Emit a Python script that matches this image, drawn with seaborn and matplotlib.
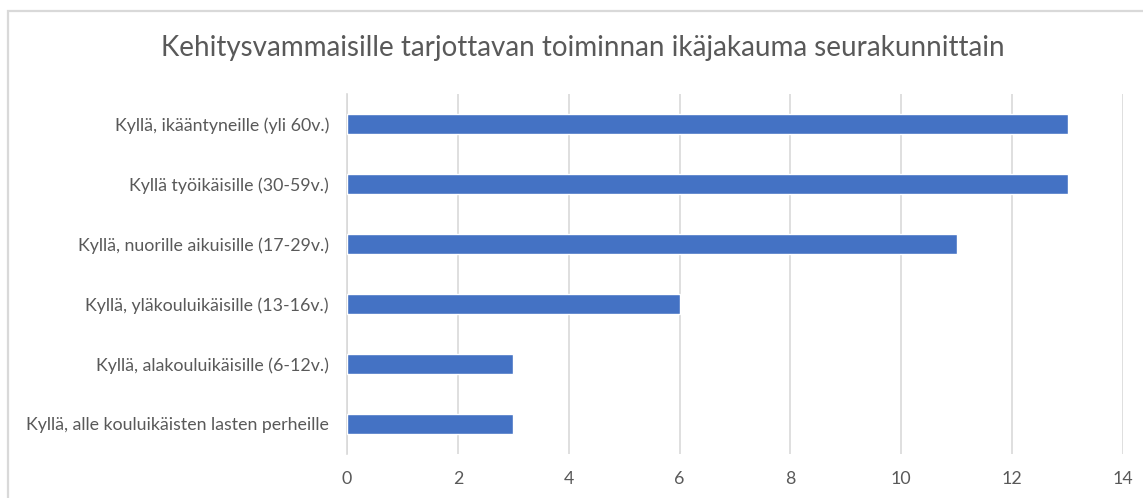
import pandas as pd
import seaborn as sns
import matplotlib.pyplot as plt
from matplotlib.patches import Rectangle

# Data (top to bottom)
categories = [
    'Kyllä, ikääntyneille (yli 60v.)',
    'Kyllä työikäisille (30-59v.)',
    'Kyllä, nuorille aikuisille (17-29v.)',
    'Kyllä, yläkouluikäisille (13-16v.)',
    'Kyllä, alakouluikäisille (6-12v.)',
    'Kyllä, alle kouluikäisten lasten perheille',
]
counts = [13, 13, 11, 6, 3, 3]
x_ticks = [0, 2, 4, 6, 8, 10, 12, 14]

df = pd.DataFrame({'Kategoria': categories, 'Määrä': counts})

sns.set_style("white")
plt.rcParams['font.family'] = ['Lato', 'DejaVu Sans']

fig = plt.figure(figsize=(11.43, 4.98), dpi=100)
ax = fig.add_axes([0.3036, 0.0884, 0.6789, 0.7228])

sns.barplot(data=df, x='Määrä', y='Kategoria', color='#4472C4',
            width=0.33, saturation=1, ax=ax, zorder=3)

ax.set_xlim(0, 14)
ax.set_xticks(x_ticks)
ax.xaxis.grid(True, color='#D9D9D9', linewidth=1.2, zorder=0)
ax.set_axisbelow(True)
ax.set_xlabel('')
ax.set_ylabel('')
for side in ['top', 'right', 'bottom']:
    ax.spines[side].set_visible(False)
ax.spines['left'].set_color('#D9D9D9')
ax.spines['left'].set_linewidth(1.2)
ax.tick_params(axis='both', length=0, labelsize=12.8, colors='#595959')
ax.tick_params(axis='x', pad=12)
ax.tick_params(axis='y', pad=13)

fig.text(0.51, 0.903, 'Kehitysvammaisille tarjottavan toiminnan ikäjakauma seurakunnittain',
         ha='center', va='center', fontsize=20, color='#595959')

# Light gray chart frame (right and bottom edges fall outside the image)
fig.patches.append(Rectangle((8 / 1143, -0.1), 1.2, 1 - 11 / 498 + 0.1,
                             transform=fig.transFigure, fill=False,
                             edgecolor='#D9D9D9', linewidth=1.6))

fig.savefig('out.png', dpi=100)
